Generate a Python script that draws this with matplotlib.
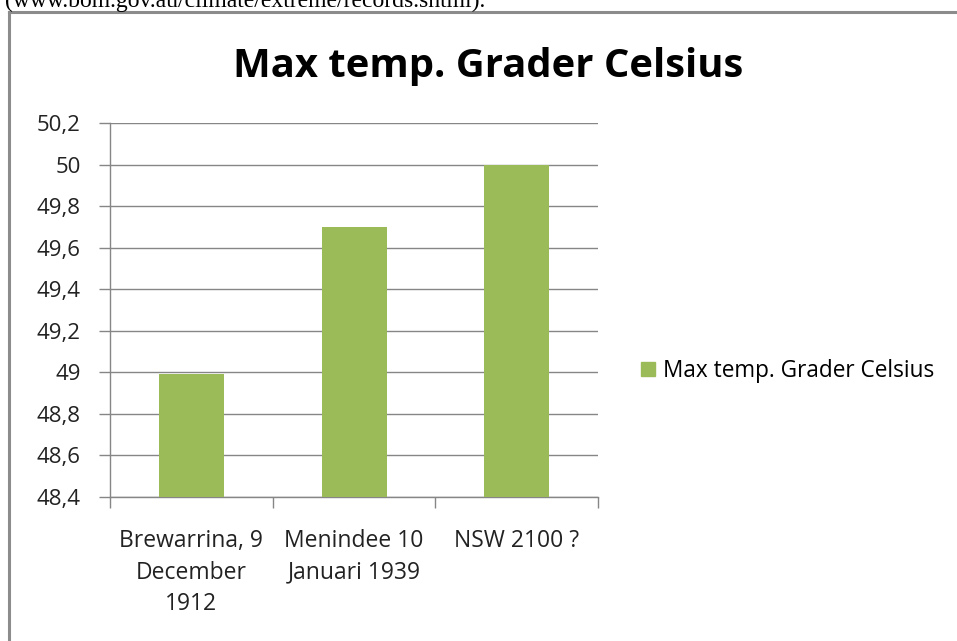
import matplotlib
matplotlib.use("Agg")
import matplotlib.pyplot as plt
from matplotlib.lines import Line2D

plt.rcParams['font.family'] = ['Open Sans', 'DejaVu Sans']

# data
categories = ['Brewarrina, 9\nDecember\n1912', 'Menindee 10\nJanuari 1939', 'NSW 2100 ?']
max_temp = [48.99, 49.70, 50.00]
series_name = 'Max temp. Grader Celsius'
yticks = [48.4, 48.6, 48.8, 49.0, 49.2, 49.4, 49.6, 49.8, 50.0, 50.2]

GREEN = '#9BBB59'
GRID = '#868686'

fig = plt.figure(figsize=(9.57, 6.41), dpi=100)
ax = fig.add_axes([0.115, 0.2246, 0.51, 0.5835])

x = range(len(categories))
ax.bar(x, max_temp, width=0.4, color=GREEN, zorder=3, label=series_name)
ax.set_xlim(-0.5, len(categories) - 0.5)
ax.set_ylim(48.4, 50.2)

ax.set_yticks(yticks)
ax.set_yticklabels([('%g' % v).replace('.', ',') for v in yticks], fontsize=16, color='#222222')
ax.yaxis.grid(True, color=GRID, linewidth=1, zorder=0)
ax.tick_params(axis='y', length=8, width=1, color=GRID, pad=13)

# category boundary ticks (major) + centred labels (minor)
ax.set_xticks([i - 0.5 for i in range(len(categories) + 1)])
ax.set_xticklabels([])
ax.set_xticks(list(x), minor=True)
ax.set_xticklabels(categories, minor=True, fontsize=16.5, color='#222222', linespacing=1.42)
ax.tick_params(axis='x', which='major', length=8, width=1, color=GRID)
ax.tick_params(axis='x', which='minor', length=0, pad=23)

for side in ['top', 'right']:
    ax.spines[side].set_visible(False)
for side in ['left', 'bottom']:
    ax.spines[side].set_color(GRID)
    ax.spines[side].set_linewidth(1)

fig.text(0.510, 0.897, series_name, ha='center', va='center', fontsize=28.8, fontweight='bold')

handle = Line2D([], [], marker='s', linestyle='none', markersize=9.5, color=GREEN)
fig.legend([handle], [series_name], loc='center left', bbox_to_anchor=(0.668, 0.421),
           frameon=False, fontsize=16.3, handletextpad=0.25, handlelength=0.8,
           borderpad=0, borderaxespad=0)

# frame of the embedded chart and the clipped text line above it
fig.add_artist(Line2D([0.0098, 0.0098], [0.0, 0.982], color='#8c8c8c', linewidth=2.2,
                      transform=fig.transFigure))
fig.add_artist(Line2D([0.0098, 1.0], [0.982, 0.982], color='#8c8c8c', linewidth=2.2,
                      transform=fig.transFigure))
fig.text(0.005, 0.989, '(www.bom.gov.au/climate/extreme/records.shtml).', ha='left',
         va='baseline', fontsize=17, family='Liberation Serif')

fig.savefig('out.png', dpi=100)
